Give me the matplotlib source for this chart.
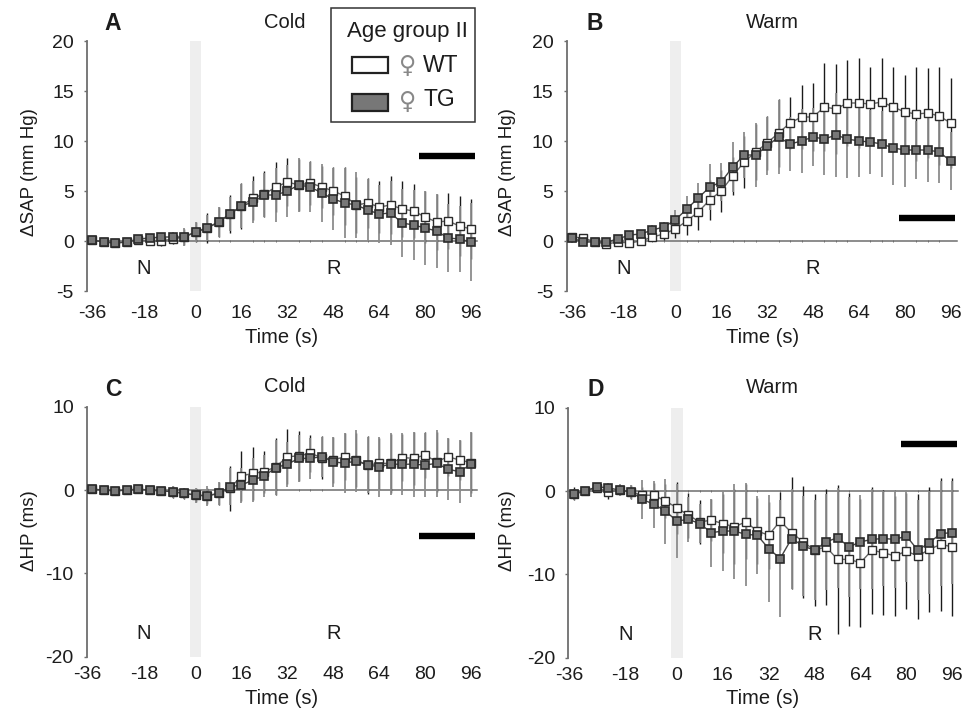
import matplotlib
matplotlib.use("Agg")
import matplotlib.pyplot as plt
from matplotlib.patches import Rectangle
from matplotlib.transforms import ScaledTranslation
import numpy as np

W, H = 967, 711
plt.rcParams["font.family"] = ["Liberation Sans", "DejaVu Sans"]
plt.rcParams["axes.unicode_minus"] = False

time_s = list(range(-36, 97, 4))
tick_pos = [-36, -18, 0, 16, 32, 48, 64, 80, 96]

wt_a = [0.1,-0.1,-0.2,-0.1,0.1,0.0,0.0,0.2,0.4,0.9,1.3,1.9,2.7,3.5,4.3,4.7,5.4,5.9,5.6,5.8,5.4,5.0,4.5,3.6,3.8,3.4,3.6,3.2,3.0,2.4,1.9,2.0,1.5,1.2]
tg_a = [0.1,-0.1,-0.2,-0.1,0.2,0.3,0.4,0.4,0.4,0.9,1.3,1.9,2.7,3.5,3.9,4.6,4.6,5.0,5.6,5.4,4.8,4.2,3.8,3.6,3.1,2.7,2.8,1.8,1.6,1.3,1.0,0.3,0.2,-0.1]
wt_err_a = [0.2,0.2,0.2,0.2,0.3,0.4,0.5,0.5,0.8,1.0,1.5,1.5,1.9,2.3,2.2,2.3,2.5,2.4,2.6,2.2,2.1,2.4,2.9,2.8,2.5,2.6,2.9,2.8,2.7,2.6,2.8,2.8,3.0,3.0]
tg_err_a = [0.2,0.2,0.2,0.2,0.3,0.4,0.4,0.5,0.9,1.0,1.3,1.5,1.7,2.2,2.1,2.2,2.7,2.6,2.7,2.5,2.9,3.1,3.5,3.3,3.1,2.9,3.2,3.4,3.5,3.7,3.7,3.4,3.3,3.9]

wt_b = [0.4,0.3,-0.1,-0.3,-0.1,-0.2,0.0,0.4,0.7,1.2,2.0,2.9,4.1,5.0,6.5,7.9,8.9,9.8,10.8,11.8,12.4,12.4,13.4,13.2,13.8,13.8,13.7,13.9,13.4,12.9,12.7,12.8,12.5,11.8]
tg_b = [0.3,-0.1,-0.1,-0.1,0.2,0.6,0.7,1.1,1.4,2.1,3.2,4.3,5.4,5.9,7.4,8.6,8.6,9.5,10.4,9.7,10.0,10.4,10.2,10.6,10.2,10.0,9.9,9.7,9.3,9.1,9.1,9.1,8.9,8.0]
wt_err_b = [0.3,0.3,0.2,0.4,0.3,0.3,0.3,0.4,0.6,0.9,1.4,1.8,2.0,2.1,1.9,2.6,2.8,2.7,3.4,2.6,3.2,3.4,4.4,4.5,4.3,4.5,3.7,4.4,4.0,3.7,4.7,4.5,4.9,4.5]
tg_err_b = [0.5,0.3,0.2,0.3,0.3,0.4,0.4,0.5,0.5,1.0,1.3,1.5,2.3,1.9,2.5,2.3,3.2,2.9,3.7,2.7,3.2,2.9,3.6,4.2,3.9,3.6,3.2,3.3,3.7,3.7,2.9,3.2,3.1,2.9]

wt_c = [0.1,0.0,-0.1,0.0,0.1,0.0,-0.1,-0.2,-0.4,-0.6,-0.7,-0.4,0.2,1.7,2.0,2.2,2.8,4.0,4.1,4.4,3.9,3.6,4.0,3.6,3.0,3.2,3.2,3.9,3.8,4.2,3.4,4.0,3.6,3.3]
tg_c = [0.1,0.0,-0.1,0.0,0.1,0.0,-0.1,-0.2,-0.4,-0.6,-0.7,-0.4,0.4,0.6,1.2,1.7,2.7,3.1,3.8,3.8,4.0,3.4,3.2,3.5,3.0,2.8,3.1,3.1,3.1,3.0,3.2,2.5,2.2,3.1]
wt_err_c = [0.2,0.2,0.2,0.2,0.2,0.3,0.4,0.7,0.7,0.8,1.0,1.4,2.7,3.0,3.2,2.5,3.4,3.3,3.0,2.2,2.6,2.8,2.8,3.2,3.5,3.1,3.5,2.8,3.2,2.8,3.6,2.3,2.4,3.7]
tg_err_c = [0.2,0.2,0.2,0.2,0.2,0.3,0.4,0.7,0.7,0.9,1.2,1.4,2.2,2.1,2.6,2.5,3.3,2.7,2.8,2.5,2.4,3.0,3.6,3.7,3.4,3.6,3.7,3.7,3.9,3.8,4.0,3.7,3.8,3.9]

wt_d = [-0.3,0.0,0.4,-0.1,0.1,-0.1,-0.5,-0.5,-1.2,-2.0,-2.9,-3.7,-3.5,-3.9,-4.3,-3.7,-4.8,-5.3,-3.6,-5.0,-6.1,-7.1,-6.7,-8.2,-8.2,-8.6,-7.1,-7.4,-7.8,-7.2,-7.8,-7.0,-6.4,-6.7]
tg_d = [-0.4,0.0,0.5,0.4,0.1,-0.1,-1.0,-1.6,-2.4,-3.6,-3.4,-3.9,-5.0,-4.8,-4.8,-5.2,-5.3,-6.9,-8.1,-5.7,-6.6,-7.1,-6.1,-5.6,-6.7,-6.1,-5.8,-5.7,-5.8,-5.4,-7.1,-6.2,-5.1,-5.0]
wt_err_d = [0.8,0.5,0.5,0.8,0.6,0.8,1.0,1.5,2.0,3.1,2.7,2.6,2.5,3.5,4.5,4.5,4.0,4.0,3.5,6.7,6.7,6.7,7.0,8.9,8.0,7.7,7.6,7.5,7.2,7.0,7.5,7.5,8.0,8.3]
tg_err_d = [0.7,0.5,0.5,0.6,0.7,0.8,2.3,2.8,3.9,4.4,2.7,2.3,4.1,4.8,5.7,6.2,4.7,6.4,7.0,6.0,6.0,6.0,5.8,6.0,6.0,5.6,6.0,5.7,5.8,5.5,6.0,6.2,6.3,6.2]

bar_a = 8.55
bar_b = 2.3
bar_c = -5.5
bar_d = 5.6

DARK = "#2a2a2a"
GREY = "#777777"
AXC = "#6e6e6e"
TXT = "#1c1c1c"


def ftext(x, y, s, **kw):
    kw.setdefault("color", TXT)
    fig.text(x / W, 1 - y / H, s, ha=kw.pop("ha", "center"), va=kw.pop("va", "center"), **kw)


def panel(left, top, wt, tg, wt_err, tg_err, ylim, yticks, bar_y, pad, shift):
    ax = fig.add_axes([left / W, 1 - (top + 250) / H, 390 / W, 250 / H])
    ax.set_xlim(-37.85, 98.1)
    ax.set_ylim(*ylim)
    ax.axvspan(-2, 2, color="#eeeeee", lw=0, zorder=0)
    for s in ("top", "right"):
        ax.spines[s].set_visible(False)
    ax.spines["left"].set_color(AXC)
    ax.spines["left"].set_linewidth(1.3)
    ax.spines["bottom"].set_position(("data", 0))
    ax.spines["bottom"].set_color(AXC)
    ax.spines["bottom"].set_linewidth(1.1)
    ax.set_yticks(yticks)
    ax.tick_params(axis="y", length=2.5, width=1, color=AXC, pad=7, labelsize=14, labelcolor=TXT)
    ax.set_xticks(tick_pos)
    ax.set_xticks(time_s, minor=True)
    ax.tick_params(axis="x", which="major", length=0, pad=pad, labelsize=14, labelcolor=TXT)
    ax.tick_params(axis="x", which="minor", length=2, width=0.7, color=AXC, direction="inout")
    first = ax.get_xticklabels()[0]
    first.set_transform(first.get_transform() + ScaledTranslation(shift / 100, 0, fig.dpi_scale_trans))
    ax.errorbar(time_s, wt, yerr=wt_err, fmt="none", ecolor="#1a1a1a", elinewidth=1.0, zorder=3)
    ax.errorbar(time_s, tg, yerr=tg_err, fmt="none", ecolor="#8c8c8c", elinewidth=1.3, zorder=4)
    ax.plot(time_s, wt, "-s", color="#666666", lw=1.0, ms=6.4, mfc="white", mec=DARK, mew=1.0, zorder=5, clip_on=False)
    ax.plot(time_s, tg, "-s", color="#444444", lw=1.0, ms=6.4, mfc=GREY, mec=DARK, mew=1.2, zorder=6, clip_on=False)
    ax.plot([78, 97.5], [bar_y, bar_y], color="black", lw=4.6, solid_capstyle="butt", zorder=7)
    ax.text(-18, ylim[0] + (ylim[1] - ylim[0]) * 0.092, "N", ha="center", va="center", fontsize=14.5, color=TXT)
    ax.text(48, ylim[0] + (ylim[1] - ylim[0]) * 0.092, "R", ha="center", va="center", fontsize=14.5, color=TXT)
    return ax


fig = plt.figure(figsize=(W / 100, H / 100), dpi=100, facecolor="white")

panel(87, 41, wt_a, tg_a, wt_err_a, tg_err_a, (-5, 20), [-5, 0, 5, 10, 15, 20], bar_a, 46, 0)
panel(566.7, 41, wt_b, tg_b, wt_err_b, tg_err_b, (-5, 20), [-5, 0, 5, 10, 15, 20], bar_b, 46, 0)
panel(87, 406.7, wt_c, tg_c, wt_err_c, tg_err_c, (-20, 10), [-20, -10, 0, 10], bar_c, 127, -5)
panel(568.3, 407.7, wt_d, tg_d, wt_err_d, tg_err_d, (-20, 10), [-20, -10, 0, 10], bar_d, 127, -4)

for x, y, s in [(113, 24, "A"), (595, 24, "B"), (113, 389, "C"), (596, 389, "D")]:
    ftext(x, y, s, fontsize=16.5, fontweight="bold")
for x, y, s in [(285, 23, "Cold"), (772, 23, "Warm"), (285, 387, "Cold"), (772, 388, "Warm")]:
    ftext(x, y, s, fontsize=14.5)
for x, y in [(282, 337), (763, 337), (282, 698), (763, 698)]:
    ftext(x, y, "Time (s)", fontsize=14.5)
for x, y, s in [(30, 172, "\u0394SAP (mm Hg)"), (508, 172, "\u0394SAP (mm Hg)"), (30, 531, "\u0394HP (ms)"), (508, 531, "\u0394HP (ms)")]:
    ftext(x, y, s, fontsize=13.5, rotation=90)

# legend box is drawn by hand, it sits on top of panel A
def frect(x0, y0, x1, y1, **kw):
    fig.add_artist(Rectangle((x0 / W, 1 - y1 / H), (x1 - x0) / W, (y1 - y0) / H, transform=fig.transFigure, **kw))


frect(331, 8, 475, 122, fc="white", ec="#333333", lw=1.1, zorder=10)
frect(352, 57, 388, 73, fc="white", ec="#222222", lw=1.6, zorder=11)
frect(352, 94, 388, 111, fc=GREY, ec="#222222", lw=1.6, zorder=11)
ftext(407, 31, "Age group II", fontsize=16, zorder=12)
ftext(408, 66, "\u2640", fontsize=17, color="#888888", family="DejaVu Sans", zorder=12)
ftext(408, 102, "\u2640", fontsize=17, color="#888888", family="DejaVu Sans", zorder=12)
ftext(423, 65, "WT", fontsize=16.5, ha="left", zorder=12)
ftext(423, 100, "TG", fontsize=16.5, ha="left", zorder=12)

fig.savefig("out.png", dpi=100)
